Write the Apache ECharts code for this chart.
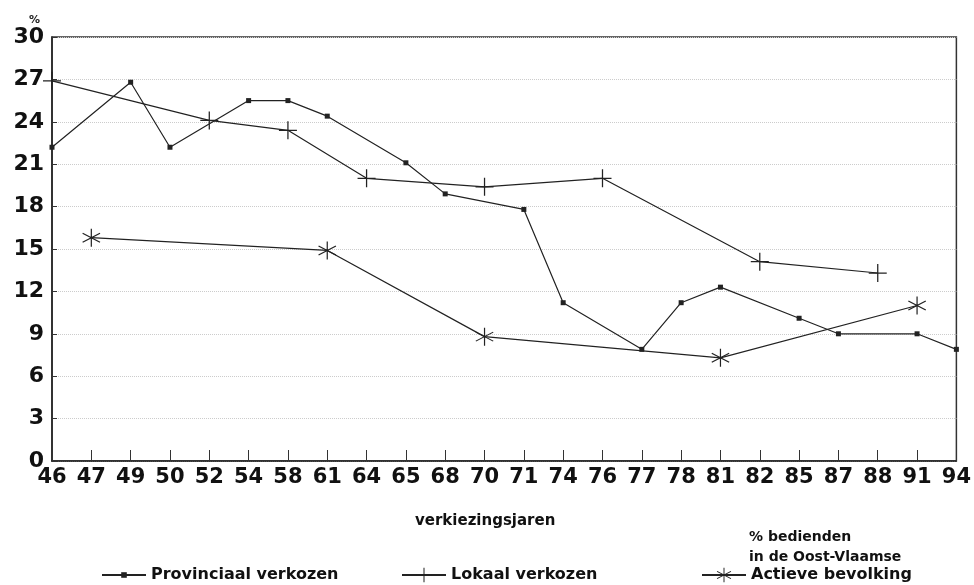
<!DOCTYPE html>
<html>
<head>
<meta charset="utf-8">
<script src="https://cdn.jsdelivr.net/npm/echarts@6/dist/echarts.min.js"></script>
<style>
    html, body { margin: 0; padding: 0; background: #fff; }
</style>
</head>
<body>
<div id="main" style="width: 974px;height:585px;"></div>
<script type="text/javascript">
    // verkiezingsjaren
    var years = ['46','47','49','50','52','54','58','61','64','65','68','70','71','74','76','77','78','81','82','85','87','88','91','94'];
    // % bedienden, null = geen verkiezing in dat jaar
    var provinciaal = [22.2, null, 26.8, 22.2, null, 25.5, 25.5, 24.4, null, 21.1, 18.9, null, 17.8, 11.2, null, 7.9, 11.2, 12.3, null, 10.1, 9.0, null, 9.0, 7.9];
    var lokaal = [26.9, null, null, null, 24.1, null, 23.4, null, 20.0, null, null, 19.4, null, null, 20.0, null, null, null, 14.1, null, null, 13.3, null, null];
    var actieve = [null, 15.8, null, null, null, null, null, 14.9, null, null, null, 8.8, null, null, null, null, null, 7.3, null, null, null, null, 11.0, null];
    var yTicks = [0, 3, 6, 9, 12, 15, 18, 21, 24, 27, 30];

    var plusPath = 'path://M9.3,0L10.7,0L10.7,20L9.3,20ZM0,9.3L20,9.3L20,10.7L0,10.7Z';
    var starPath = 'path://M9.4,0L10.6,0L10.6,20L9.4,20Z' +
        'M1.64,4.48L18.96,14.48L18.36,15.52L1.04,5.52Z' +
        'M1.04,14.48L18.36,4.48L18.96,5.52L1.64,15.52Z';

    var lineColor = '#222';
    var boldFont = 'DejaVu Sans';

    var myChart = echarts.init(document.getElementById('main'));
    var legendText = { fontFamily: boldFont, fontWeight: 'bold', fontSize: 16, color: '#111' };
    var option = {
        animation: false,
        backgroundColor: '#fff',
        title: [
            { text: '%', left: 24, top: 10, textStyle: { fontFamily: boldFont, fontWeight: 'bold', fontSize: 11, color: '#222' } },
            { text: '% bedienden\nin de Oost-Vlaamse', left: 744, top: 522,
              textStyle: { fontFamily: boldFont, fontWeight: 'bold', fontSize: 14, lineHeight: 20, color: '#111' } },
            { text: 'verkiezingsjaren', left: 410, top: 509,
              textStyle: { fontFamily: boldFont, fontWeight: 'bold', fontSize: 15, color: '#111' } }
        ],
        legend: [
            { data: ['Provinciaal verkozen'], left: 96, top: 562, itemWidth: 44, itemHeight: 7, textStyle: legendText },
            { data: ['Lokaal verkozen'], left: 396, top: 562, itemWidth: 44, itemHeight: 18, textStyle: legendText },
            { data: ['Actieve bevolking'], left: 696, top: 562, itemWidth: 44, itemHeight: 18, textStyle: legendText }
        ],
        grid: {
            left: 52,
            right: 17,
            top: 37,
            bottom: 124,
            show: true,
            borderColor: '#333',
            borderWidth: 1.5
        },
        xAxis: {
            type: 'category',
            boundaryGap: false,
            data: years,
            axisLine: { lineStyle: { color: '#222', width: 1.5 } },
            axisTick: { inside: true, length: 11, interval: 0, lineStyle: { color: '#333' } },
            axisLabel: { interval: 0, margin: 6, fontFamily: boldFont, fontWeight: 'bold', fontSize: 21, color: '#111' },
            splitLine: { show: false }
        },
        yAxis: {
            type: 'value',
            min: yTicks[0],
            max: yTicks[yTicks.length - 1],
            interval: 3,
            axisLine: { show: true, lineStyle: { color: '#222', width: 1.5 } },
            axisTick: { show: true, inside: true, length: 5, lineStyle: { color: '#333' } },
            axisLabel: { margin: 8, fontFamily: boldFont, fontWeight: 'bold', fontSize: 22, color: '#111' },
            splitLine: { show: true, lineStyle: { color: '#ccc', type: 'dotted', width: 1 } }
        },
        series: [
            {
                name: 'Provinciaal verkozen',
                type: 'line',
                data: provinciaal,
                connectNulls: true,
                symbol: 'rect',
                symbolSize: 5,
                lineStyle: { color: lineColor, width: 1.2 },
                itemStyle: { color: lineColor }
            },
            {
                name: 'Lokaal verkozen',
                type: 'line',
                data: lokaal,
                connectNulls: true,
                symbol: plusPath,
                symbolSize: 18,
                lineStyle: { color: lineColor, width: 1.2 },
                itemStyle: { color: lineColor }
            },
            {
                name: 'Actieve bevolking',
                type: 'line',
                data: actieve,
                connectNulls: true,
                symbol: starPath,
                symbolSize: 18,
                lineStyle: { color: lineColor, width: 1.2 },
                itemStyle: { color: lineColor }
            }
        ]
    };
    myChart.setOption(option);
</script>
</body>
</html>
